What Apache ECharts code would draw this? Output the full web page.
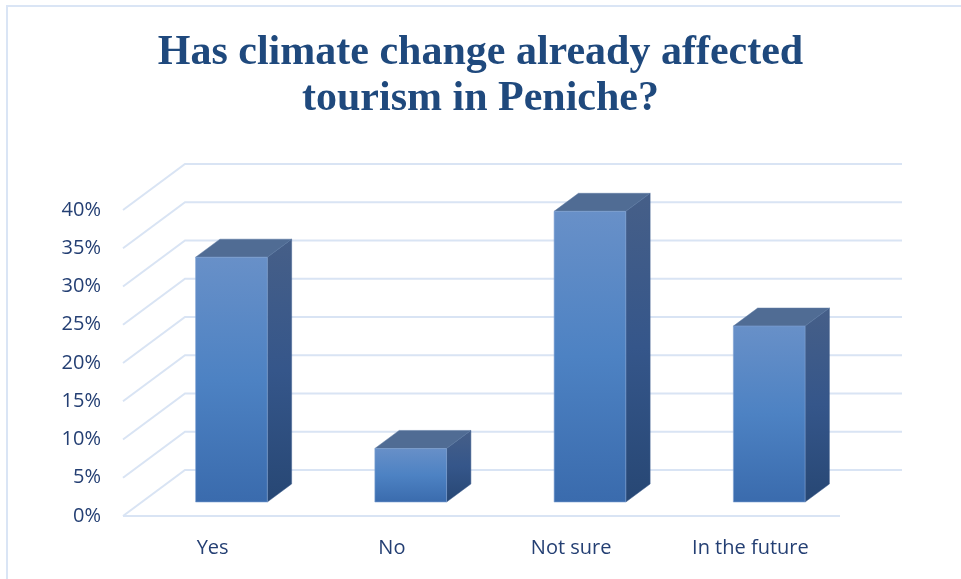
<!DOCTYPE html>
<html>
<head>
<meta charset="utf-8">
<script src="https://cdn.jsdelivr.net/npm/echarts@6/dist/echarts.min.js"></script>
<style>
  html, body { margin: 0; padding: 0; background: #ffffff; }
  #chart { width: 961px; height: 579px; }
</style>
</head>
<body>
<div id="chart"></div>
<script>
// Survey answers: share of respondents per answer (percent)
const categories = ['Yes', 'No', 'Not sure', 'In the future'];
const shares = [32, 7, 38, 23];
// Value axis ticks (percent)
const tickValues = [0, 5, 10, 15, 20, 25, 30, 35, 40];

// Oblique projection of the chart's depth axis (screen pixels for full floor depth)
const DEPTH = [62, -46];
const BAR_FRONT = 0.304;   // bar front face, as a fraction of floor depth
const BAR_BACK = 0.696;    // bar back face
const BAR_WIDTH_RATIO = 0.4;

const gridColor = '#D9E4F4';
const textColor = '#243F73';

const chart = echarts.init(document.getElementById('chart'), null, { renderer: 'canvas' });

function wallsItem(params, api) {
  const v = api.value(0);
  const cs = params.coordSys;
  const left = cs.x, right = cs.x + cs.width;
  const y = api.coord([0, v])[1];
  const children = [];
  const style = { stroke: gridColor, lineWidth: 2, fill: null };
  // side wall diagonal and back wall line
  children.push({
    type: 'polyline',
    shape: { points: [[left, y], [left + DEPTH[0], y + DEPTH[1]], [right + DEPTH[0], y + DEPTH[1]]] },
    style: style
  });
  if (v === 0) {
    // front edge of the floor
    children.push({ type: 'line', shape: { x1: left, y1: y, x2: right, y2: y }, style: style });
  }
  return { type: 'group', children: children };
}

function barItem(params, api) {
  const idx = api.value(0);
  const val = api.value(1);
  const base = api.coord([idx, 0]);
  const top = api.coord([idx, val]);
  const band = api.size([1, 0])[0];
  const w = band * BAR_WIDTH_RATIO;
  const fx = DEPTH[0] * BAR_FRONT, fy = DEPTH[1] * BAR_FRONT;
  const dx = DEPTH[0] * (BAR_BACK - BAR_FRONT), dy = DEPTH[1] * (BAR_BACK - BAR_FRONT);
  const x0 = base[0] - w / 2 + fx, x1 = x0 + w;
  const yb = base[1] + fy, yt = top[1] + fy;
  const frontFill = new echarts.graphic.LinearGradient(0, 0, 0, 1, [
    { offset: 0, color: '#6890C8' },
    { offset: 0.5, color: '#4D82C3' },
    { offset: 1, color: '#3A6BAD' }
  ]);
  const sideFill = new echarts.graphic.LinearGradient(0, 0, 0, 1, [
    { offset: 0, color: '#465F88' },
    { offset: 0.5, color: '#35568A' },
    { offset: 1, color: '#274774' }
  ]);
  return {
    type: 'group',
    children: [
      { type: 'polygon', shape: { points: [[x1, yt], [x1 + dx, yt + dy], [x1 + dx, yb + dy], [x1, yb]] },
        style: { fill: sideFill, stroke: '#3C5D8C', lineWidth: 0.5 } },
      { type: 'polygon', shape: { points: [[x0, yt], [x0 + dx, yt + dy], [x1 + dx, yt + dy], [x1, yt]] },
        style: { fill: '#506C94', stroke: '#5A78A2', lineWidth: 0.5 } },
      { type: 'rect', shape: { x: x0, y: yt, width: w, height: yb - yt },
        style: { fill: frontFill, stroke: '#7FA2D4', lineWidth: 0.6 } }
    ]
  };
}

chart.setOption({
  animation: false,
  backgroundColor: '#ffffff',
  title: {
    text: 'Has climate change already affected\ntourism in Peniche?',
    left: 'center',
    top: 25,
    textStyle: {
      fontFamily: 'Liberation Serif',
      fontWeight: 'bold',
      fontSize: 42,
      lineHeight: 46,
      color: '#1F497D'
    }
  },
  graphic: [{
    type: 'polyline',
    shape: { points: [[7, 579], [7, 6], [961, 6]] },
    style: { stroke: '#DAE5F5', lineWidth: 2, fill: null },
    silent: true
  }],
  grid: { left: 123, right: 121, top: 210, bottom: 63, containLabel: false },
  xAxis: {
    type: 'category',
    data: categories,
    boundaryGap: true,
    axisLine: { show: false },
    axisTick: { show: false },
    axisLabel: {
      margin: 22,
      fontFamily: 'Open Sans',
      fontSize: 20,
      color: textColor
    }
  },
  yAxis: {
    type: 'value',
    min: 0,
    max: 40,
    interval: 5,
    axisLine: { show: false },
    axisTick: { show: false },
    splitLine: { show: false },
    axisLabel: {
      margin: 22,
      formatter: '{value}%',
      fontFamily: 'Open Sans',
      fontSize: 20,
      color: textColor
    }
  },
  series: [
    {
      type: 'custom',
      name: 'walls',
      silent: true,
      z: 1,
      renderItem: wallsItem,
      encode: { x: -1, y: 0 },
      data: tickValues.map(v => [v])
    },
    {
      type: 'custom',
      name: 'shares',
      z: 2,
      renderItem: barItem,
      encode: { x: 0, y: 1 },
      data: categories.map((c, i) => [i, shares[i]])
    }
  ]
});
</script>
</body>
</html>
